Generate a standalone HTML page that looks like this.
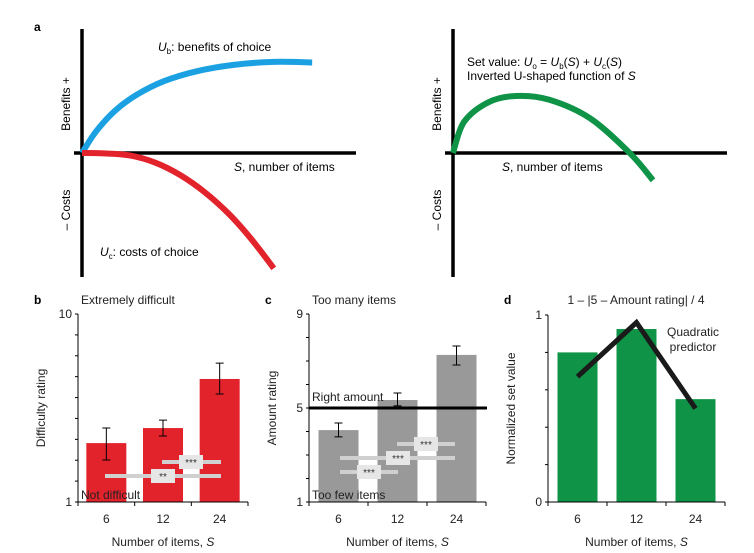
<!DOCTYPE html>
<html><head><meta charset="utf-8"><style>
html,body{margin:0;padding:0;background:#fff}
svg{display:block;font-family:"Liberation Sans",Arial,sans-serif}
</style></head><body>
<svg id="fig" width="754" height="553" viewBox="0 0 754 553" xmlns="http://www.w3.org/2000/svg"></svg>
<script>
// ---- Panel a schematic curves (normalized S, value) ----
const benefitS=[0,0.05,0.12,0.2,0.3,0.42,0.55,0.7,0.84];
const benefitV=[0,0.17,0.34,0.47,0.58,0.66,0.71,0.735,0.73];
const costS=[0,0.08,0.175,0.27,0.36,0.45,0.54,0.62,0.70];
const costV=[0,-0.003,-0.02,-0.08,-0.18,-0.32,-0.50,-0.70,-0.93];
const setS=[0,0.04,0.13,0.23,0.35,0.50,0.645,0.73];
const setV=[0,0.25,0.41,0.46,0.43,0.28,0,-0.22];
// ---- Panel b ----
const categories=["6","12","24"];
const diffVals=[3.82,4.54,6.89];
const diffHi=[4.54,4.92,7.65];
const diffLo=[3.01,4.16,6.17];
const diffTicks=["1","10"];
// ---- Panel c ----
const amtVals=[4.06,5.34,7.26];
const amtHi=[4.36,5.64,7.64];
const amtLo=[3.77,5.09,6.83];
const amtTicks=["1","5","9"];
// ---- Panel d ----
const setVals=[0.80,0.925,0.55];
const quadVals=[0.67,0.96,0.50];
const setTicks=["0","1"];

const NS="http://www.w3.org/2000/svg";
const svg=document.getElementById('fig');
const FS=12;
function el(tag,attrs,parent,text){const e=document.createElementNS(NS,tag);for(const k in attrs)e.setAttribute(k,attrs[k]);if(text!==undefined)e.textContent=text;(parent||svg).appendChild(e);return e;}
function smooth(pts){let d=`M${pts[0][0]},${pts[0][1]}`;for(let i=0;i<pts.length-1;i++){const p0=pts[i-1]||pts[i],p1=pts[i],p2=pts[i+1],p3=pts[i+2]||p2;const c1=[p1[0]+(p2[0]-p0[0])/6,p1[1]+(p2[1]-p0[1])/6],c2=[p2[0]-(p3[0]-p1[0])/6,p2[1]-(p3[1]-p1[1])/6];d+=` C${c1[0]},${c1[1]} ${c2[0]},${c2[1]} ${p2[0]},${p2[1]}`;}return d;}

// ===== Panel a =====
let t;
t=el('text',{x:34,y:31,'font-size':12,'font-weight':'bold'},svg,'a');
function schematic(ox,names){
  const sx=s=>ox+s*274, sy=v=>153-v*124;
  let g=el('g',{});
  let a=el('line',{x1:ox,y1:29,x2:ox,y2:277,stroke:'#000','stroke-width':3.5},g);
  a=el('line',{x1:ox-8,y1:153,x2:ox+274,y2:153,stroke:'#000','stroke-width':3.5},g);
  t=el('text',{transform:`translate(${ox-12},${104}) rotate(-90)`,'font-size':FS,'text-anchor':'middle'},g,'Benefits +');
  t=el('text',{transform:`translate(${ox-12},${210}) rotate(-90)`,'font-size':FS,'text-anchor':'middle'},g,'\u2013 Costs');
  return {g,sx,sy};
}
let L=schematic(82,{g:'panel-a-left'});
let p=el('path',{d:smooth(benefitS.map((s,i)=>[L.sx(s),L.sy(benefitV[i])])),fill:'none',stroke:'#1ba1e2','stroke-width':6},L.g);
p=el('path',{d:smooth(costS.map((s,i)=>[L.sx(s),L.sy(costV[i])])),fill:'none',stroke:'#e3232c','stroke-width':6},L.g);
t=el('text',{x:158,y:51,'font-size':FS},L.g);t.innerHTML='<tspan font-style="italic">U</tspan><tspan font-size="8" dy="3">b</tspan><tspan dy="-3">: benefits of choice</tspan>';
t=el('text',{x:100,y:256,'font-size':FS},L.g);t.innerHTML='<tspan font-style="italic">U</tspan><tspan font-size="8" dy="3">c</tspan><tspan dy="-3">: costs of choice</tspan>';
t=el('text',{x:234,y:171,'font-size':FS},L.g);t.innerHTML='<tspan font-style="italic">S</tspan>, number of items';

let R=schematic(453,{g:'panel-a-right'});
p=el('path',{d:smooth(setS.map((s,i)=>[R.sx(s),R.sy(setV[i])])),fill:'none',stroke:'#0f9347','stroke-width':6},R.g);
t=el('text',{x:467,y:66,'font-size':FS},R.g);t.innerHTML='Set value: <tspan font-style="italic">U</tspan><tspan font-size="8" dy="3">o</tspan><tspan dy="-3"> = </tspan><tspan font-style="italic">U</tspan><tspan font-size="8" dy="3">b</tspan><tspan dy="-3">(</tspan><tspan font-style="italic">S</tspan>) + <tspan font-style="italic">U</tspan><tspan font-size="8" dy="3">c</tspan><tspan dy="-3">(</tspan><tspan font-style="italic">S</tspan>)';
t=el('text',{x:467,y:80,'font-size':FS},R.g);t.innerHTML='Inverted U-shaped function of <tspan font-style="italic">S</tspan>';
t=el('text',{x:502,y:171,'font-size':FS},R.g);t.innerHTML='<tspan font-style="italic">S</tspan>, number of items';

// ===== Bar panels =====
function barPanel(o){
  const g=el('g',{});
  const y=v=>o.y0-(v-o.vmin)/(o.vmax-o.vmin)*(o.y0-o.y1);
  const bw=(o.x1-o.x0)/categories.length;
  const cx=i=>o.x0+bw*(i+0.5);
  t=el('text',{x:o.x0-44,y:304,'font-size':12,'font-weight':'bold'},g,o.letter);
  o.vals.forEach((v,i)=>{
    const r=el('rect',{x:cx(i)-20,y:y(v),width:40,height:o.y0-y(v),fill:o.color},g);
    
    
  });
  if(o.hi){o.vals.forEach((v,i)=>{
    const e=el('path',{d:`M${cx(i)},${y(o.hi[i])}V${y(o.lo[i])}M${cx(i)-4},${y(o.hi[i])}h8M${cx(i)-4},${y(o.lo[i])}h8`,stroke:'#000','stroke-width':1,fill:'none'},g);
    
    
  });}
  let a=el('path',{d:`M${o.x0},${o.y1}V${o.y0}H${o.x1}`,stroke:'#000','stroke-width':1,fill:'none'},g);
  for(let v=o.vmin;v<=o.vmax+1e-9;v+=o.minor){el('line',{x1:o.x0,x2:o.x0-3,y1:y(v),y2:y(v),stroke:'#000'},g);}
  o.ticks.forEach(s=>{t=el('text',{x:o.x0-6,y:y(+s)+4,'font-size':FS,'text-anchor':'end',fill:'#222'},g,s);});
  for(let i=0;i<=categories.length;i++)el('line',{x1:o.x0+bw*i,x2:o.x0+bw*i,y1:o.y0,y2:o.y0+4,stroke:'#000'},g);
  categories.forEach((c,i)=>{t=el('text',{x:cx(i),y:o.y0+21,'font-size':FS,'text-anchor':'middle',fill:'#222'},g,c);});
  t=el('text',{x:(o.x0+o.x1)/2,y:o.y0+44,'font-size':FS,'text-anchor':'middle',fill:'#222'},g);t.innerHTML='Number of items, <tspan font-style="italic">S</tspan>';
  t=el('text',{transform:`translate(${o.x0-33},${(o.y0+o.y1)/2}) rotate(-90)`,'font-size':FS,'text-anchor':'middle',fill:'#222'},g,o.ytitle);
  return {g,y,cx};
}
function sig(g,x1,x2,yy,bx,label){
  el('line',{x1,x2,y1:yy,y2:yy,stroke:'#d0d0d0','stroke-width':4},g);
  const r=el('rect',{x:bx,y:yy-7,width:24,height:14,fill:'#e6e6e6'},g);
  
  t=el('text',{x:bx+12,y:yy+4,'font-size':10,'text-anchor':'middle',fill:'#333'},g,label);
}
let B=barPanel({name:'panel-b',letter:'b',x0:78,x1:248,y0:502,y1:314,vmin:1,vmax:10,minor:1,ticks:diffTicks,vals:diffVals,hi:diffHi,lo:diffLo,color:'#e3232c',ytitle:'Difficulty rating'});
sig(B.g,162,221,462,179,'***');
sig(B.g,105,221,476,151,'**');
t=el('text',{x:81,y:304,'font-size':FS,fill:'#222'},B.g,'Extremely difficult');
t=el('text',{x:81,y:499,'font-size':FS,fill:'#222'},B.g,'Not difficult');
let C=barPanel({name:'panel-c',letter:'c',x0:309,x1:486,y0:502,y1:314,vmin:1,vmax:9,minor:1,ticks:amtTicks,vals:amtVals,hi:amtHi,lo:amtLo,color:'#999',ytitle:'Amount rating'});
let rl=el('line',{x1:309,x2:487,y1:C.y(5),y2:C.y(5),stroke:'#000','stroke-width':3},C.g);
sig(C.g,397,455,444,414,'***');
sig(C.g,340,455,458,386,'***');
sig(C.g,340,398,472,357,'***');
t=el('text',{x:312,y:304,'font-size':FS,fill:'#222'},C.g,'Too many items');
t=el('text',{x:312,y:401,'font-size':FS,fill:'#222'},C.g,'Right amount');
t=el('text',{x:312,y:499,'font-size':FS,fill:'#222'},C.g,'Too few items');
let D=barPanel({name:'panel-d',letter:'d',x0:548,x1:725,y0:502,y1:315,vmin:0,vmax:1,minor:0.2,ticks:setTicks,vals:setVals,color:'#0f9347',ytitle:'Normalized set value'});
let ql=el('polyline',{points:quadVals.map((v,i)=>`${D.cx(i)},${D.y(v)}`).join(' '),fill:'none',stroke:'#1a1a1a','stroke-width':5,'stroke-linejoin':'miter'},D.g);
t=el('text',{x:636,y:304,'font-size':FS,'text-anchor':'middle',fill:'#222'},D.g,'1 \u2013 |5 \u2013 Amount rating| / 4');
t=el('text',{x:693,y:336,'font-size':FS,'text-anchor':'middle',fill:'#222'},D.g,'Quadratic');
t=el('text',{x:693,y:351,'font-size':FS,'text-anchor':'middle',fill:'#222'},D.g,'predictor');
</script>
</body></html>
